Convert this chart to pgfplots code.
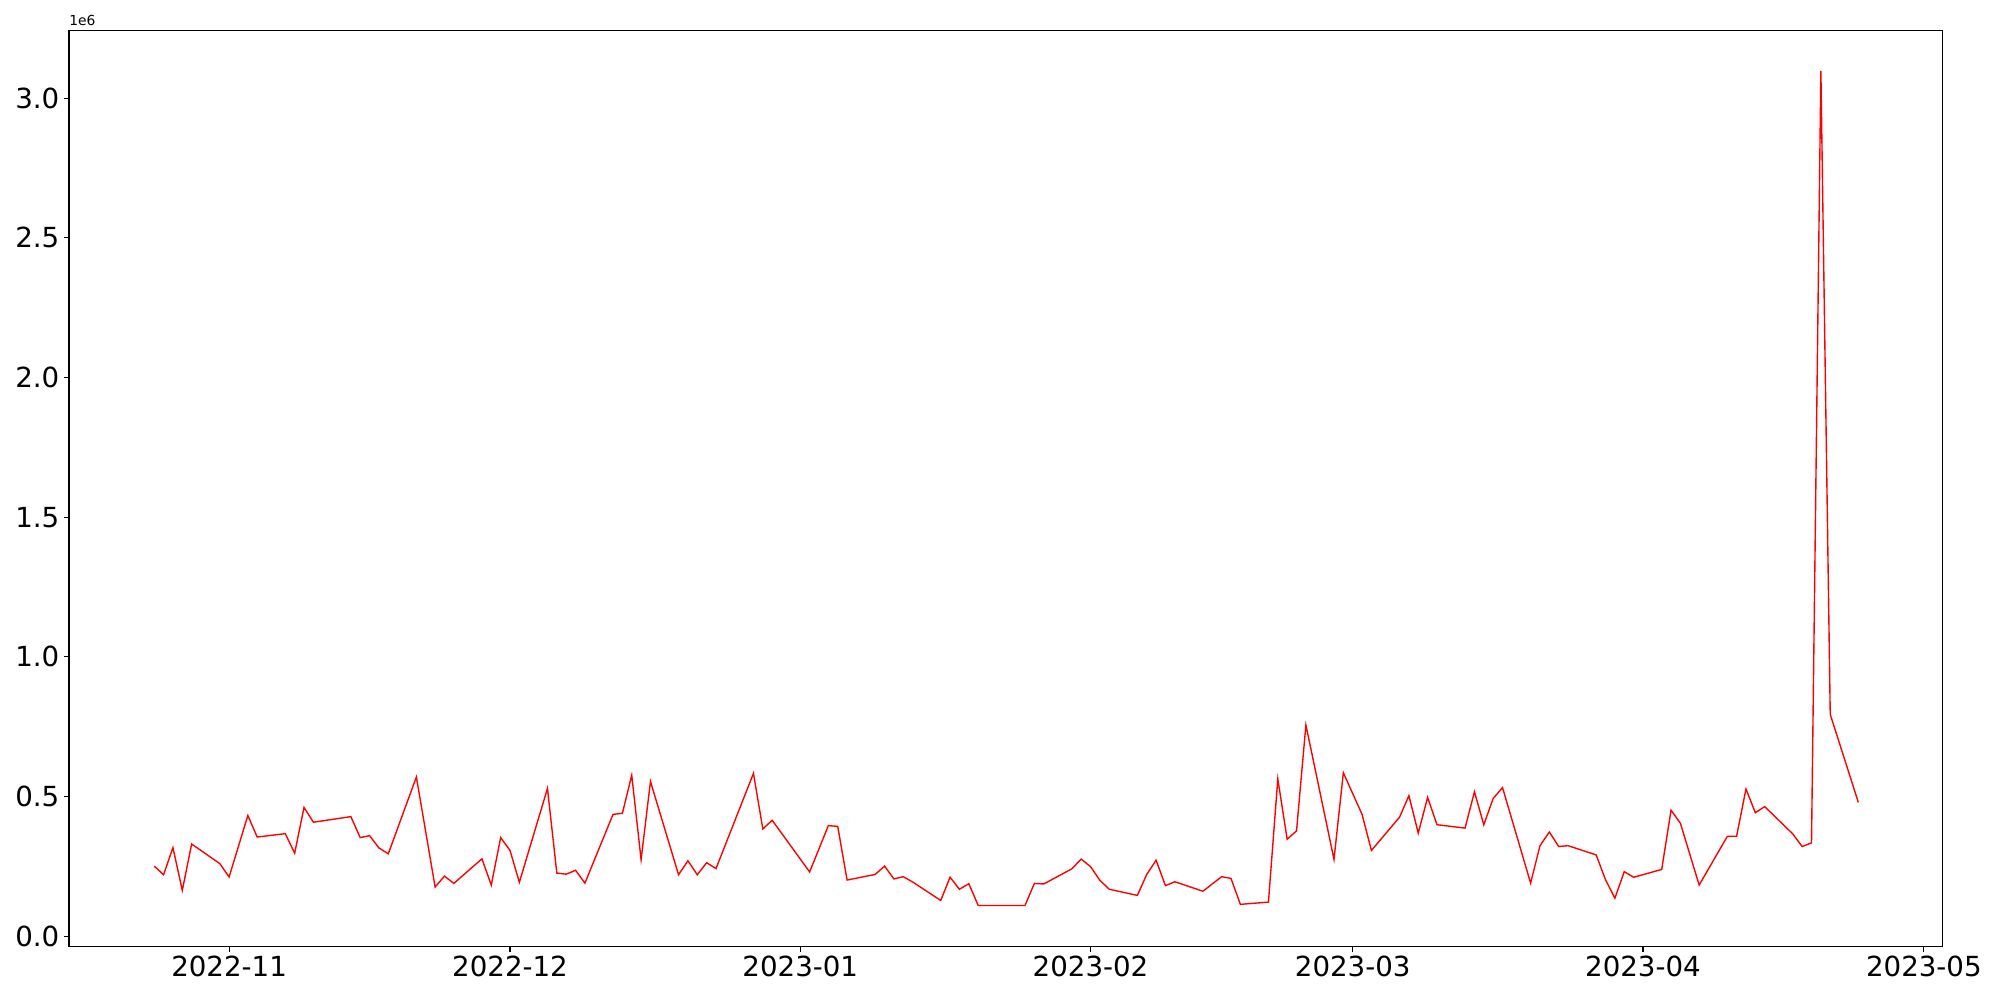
\documentclass[border=0pt]{standalone}
\usepackage{pgfplots}
\pgfplotsset{compat=1.18}
\usepackage{fontspec}
\setmainfont{DejaVu Sans}
\begin{document}
\begin{tikzpicture}
\path (0,0) rectangle (20in,10in);
\begin{axis}[
  at={(0.69in,0.533in)}, anchor=south west,
  scale only axis, width=18.736in, height=9.164in,
  xmin=-17.1, xmax=183.0, ymin=-37600, ymax=3243000,
  axis line style={line width=0.8pt},
  tick align=outside, tick style={line width=0.8pt, black},
  major tick length=3.5pt,
  xtick={0,30,61,92,120,151,181},
  xticklabels={2022-11,2022-12,2023-01,2023-02,2023-03,2023-04,2023-05},
  ytick={0,500000,1000000,1500000,2000000,2500000,3000000},
  yticklabels={0.0,0.5,1.0,1.5,2.0,2.5,3.0},
  scaled y ticks=false,
  xtick pos=bottom, ytick pos=left,
  ticklabel style={font=\fontsize{20}{24}\selectfont},
  clip=false,
]
\addplot[red, line width=1pt, mark=none] coordinates {
(-8,251000) (-7,220000) (-6,317000) (-5,164000) (-4,330000) (-1,260000) (0,212000)
(2,432000) (3,355000) (6,367000) (7,297000) (8,461000) (9,408000) (13,428000)
(14,353000) (15,360000) (16,316000) (17,295000) (20,570000) (22,176000) (23,215000)
(24,189000) (27,277000) (28,183000) (29,353000) (30,307000) (31,193000) (34,529000)
(35,226000) (36,222000) (37,236000) (38,190000) (41,436000) (42,440000) (43,576000)
(44,274000) (45,554000) (48,220000) (49,270000) (50,220000) (51,263000) (52,242000)
(56,583000) (57,384000) (58,415000) (62,230000) (64,396000) (65,393000) (66,201000)
(69,221000) (70,251000) (71,205000) (72,213000) (73,194000) (76,128000) (77,211000)
(78,168000) (79,188000) (80,110000) (85,110000) (86,189000) (87,187000) (90,241000)
(91,276000) (92,249000) (93,200000) (94,168000) (97,146000) (98,221000) (99,272000)
(100,181000) (101,195000) (104,161000) (106,213000) (107,207000) (108,114000)
(111,122000) (112,563000) (113,347000) (114,377000) (115,756000) (118,275000)
(119,585000) (121,436000) (122,307000) (125,426000) (126,503000) (127,369000)
(128,497000) (129,399000) (132,387000) (133,517000) (134,399000) (135,493000)
(136,532000) (139,190000) (140,324000) (141,373000) (142,321000) (143,324000)
(146,291000) (147,202000) (148,136000) (149,231000) (150,211000) (153,239000)
(154,451000) (155,404000) (157,183000) (160,357000) (161,358000) (162,527000)
(163,442000) (164,464000) (167,366000) (168,321000) (169,334000) (170,3098000)
(171,794000) (174,479000)
};
\node[anchor=south west, inner sep=0pt, font=\fontsize{10}{12}\selectfont] at (rel axis cs:0,1) [yshift=3pt] {1e6};
\end{axis}
\end{tikzpicture}
\end{document}
